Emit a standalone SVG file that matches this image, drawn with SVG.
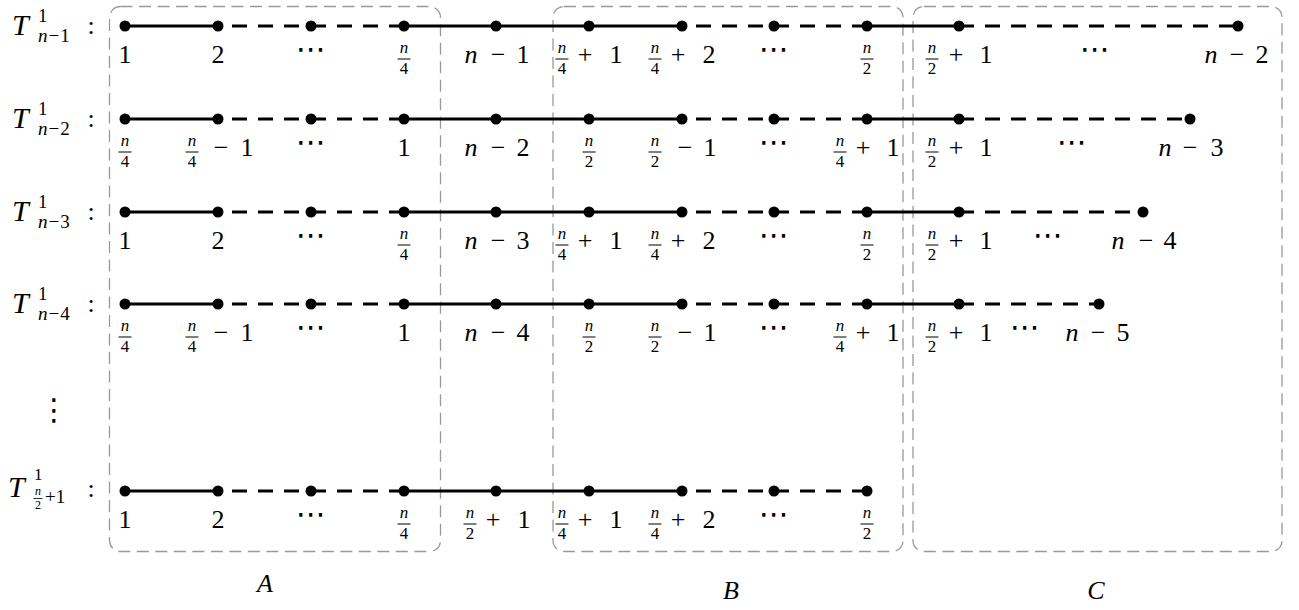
<svg xmlns="http://www.w3.org/2000/svg" width="1299" height="610" viewBox="0 0 1299 610" font-family="Liberation Serif, serif">
<style>
.dot{fill:#000}
.s{stroke:#000;stroke-width:2.8;fill:none}
.d{stroke:#000;stroke-width:2.8;fill:none;stroke-dasharray:15 11}
.d1{stroke-dashoffset:12}
.box{fill:none;stroke:#999;stroke-width:1.3;stroke-dasharray:12 6.5}
text{font-family:"Liberation Serif",serif;font-size:26px;text-anchor:middle;fill:#000}
.i{font-style:italic}
.fr{font-size:17px}
.sm{font-size:19px}
.tt{font-size:30px;font-style:italic;text-anchor:start}
.bar{stroke:#000;stroke-width:1}
.dt{font-family:"DejaVu Sans",sans-serif;font-size:30px}
.st{text-anchor:start}
</style>
<rect width="1299" height="610" fill="#fff"/>

<g id="regions">
<rect id="boxA" class="box" x="109.5" y="6.5" width="331" height="545" rx="11"/>
<rect id="boxB" class="box" x="553" y="6.5" width="350" height="545" rx="11"/>
<rect id="boxC" class="box" x="913" y="6.5" width="369" height="545" rx="11"/>
<text id="labA" class="i" x="265" y="592">A</text>
<text id="labB" class="i" x="731" y="599">B</text>
<text id="labC" class="i" x="1096" y="599">C</text>
</g>

<g id="connectors">
<line class="s" x1="125" y1="26" x2="218" y2="26"/>
<line class="d d1" x1="218" y1="26" x2="311" y2="26"/>
<line class="d" x1="311" y1="26" x2="404" y2="26"/>
<line class="s" x1="404" y1="26" x2="682" y2="26"/>
<line class="d d1" x1="682" y1="26" x2="774" y2="26"/>
<line class="d" x1="774" y1="26" x2="867" y2="26"/>
<line class="s" x1="867" y1="26" x2="959" y2="26"/>
<line class="d" x1="959" y1="26" x2="1238" y2="26"/>
<line class="s" x1="125" y1="119" x2="218" y2="119"/>
<line class="d d1" x1="218" y1="119" x2="311" y2="119"/>
<line class="d" x1="311" y1="119" x2="404" y2="119"/>
<line class="s" x1="404" y1="119" x2="682" y2="119"/>
<line class="d d1" x1="682" y1="119" x2="774" y2="119"/>
<line class="d" x1="774" y1="119" x2="867" y2="119"/>
<line class="s" x1="867" y1="119" x2="959" y2="119"/>
<line class="d" x1="959" y1="119" x2="1190" y2="119"/>
<line class="s" x1="125" y1="212" x2="218" y2="212"/>
<line class="d d1" x1="218" y1="212" x2="311" y2="212"/>
<line class="d" x1="311" y1="212" x2="404" y2="212"/>
<line class="s" x1="404" y1="212" x2="682" y2="212"/>
<line class="d d1" x1="682" y1="212" x2="774" y2="212"/>
<line class="d" x1="774" y1="212" x2="867" y2="212"/>
<line class="s" x1="867" y1="212" x2="959" y2="212"/>
<line class="d" x1="959" y1="212" x2="1143" y2="212"/>
<line class="s" x1="125" y1="304" x2="218" y2="304"/>
<line class="d d1" x1="218" y1="304" x2="311" y2="304"/>
<line class="d" x1="311" y1="304" x2="404" y2="304"/>
<line class="s" x1="404" y1="304" x2="682" y2="304"/>
<line class="d d1" x1="682" y1="304" x2="774" y2="304"/>
<line class="d" x1="774" y1="304" x2="867" y2="304"/>
<line class="s" x1="867" y1="304" x2="959" y2="304"/>
<line class="d" x1="959" y1="304" x2="1099" y2="304"/>
<line class="s" x1="125" y1="491" x2="218" y2="491"/>
<line class="d d1" x1="218" y1="491" x2="311" y2="491"/>
<line class="d" x1="311" y1="491" x2="404" y2="491"/>
<line class="s" x1="404" y1="491" x2="682" y2="491"/>
<line class="d d1" x1="682" y1="491" x2="774" y2="491"/>
<line class="d" x1="774" y1="491" x2="867" y2="491"/>
</g>

<g id="rowlabels">
<g id="T1"><text class="tt" x="12" y="35">T</text><text class="sm st" x="38" y="22">1</text><text class="sm st" x="38" y="42"><tspan class="i">n</tspan><tspan dx="1">−</tspan><tspan dx="1">1</tspan></text><text x="91" y="34">:</text></g>
<g id="T2"><text class="tt" x="12" y="128">T</text><text class="sm st" x="38" y="115">1</text><text class="sm st" x="38" y="135"><tspan class="i">n</tspan><tspan dx="1">−</tspan><tspan dx="1">2</tspan></text><text x="91" y="127">:</text></g>
<g id="T3"><text class="tt" x="12" y="221">T</text><text class="sm st" x="38" y="208">1</text><text class="sm st" x="38" y="228"><tspan class="i">n</tspan><tspan dx="1">−</tspan><tspan dx="1">3</tspan></text><text x="91" y="220">:</text></g>
<g id="T4"><text class="tt" x="12" y="313">T</text><text class="sm st" x="38" y="300">1</text><text class="sm st" x="38" y="320"><tspan class="i">n</tspan><tspan dx="1">−</tspan><tspan dx="1">4</tspan></text><text x="91" y="312">:</text></g>
<text id="vdots" class="dt" x="54" y="420">⋮</text>
<g id="T5"><text class="tt" x="8" y="497">T</text><text class="st" x="34" y="480" style="font-size:17px">1</text><text class="i" x="38" y="495" style="font-size:12px">n</text><line class="bar" x1="33.5" y1="498.5" x2="42.5" y2="498.5" style="stroke-width:0.8"/><text x="38" y="509" style="font-size:12px">2</text><text class="sm st" x="45" y="503">+1</text><text x="91" y="497">:</text></g>
</g>

<g id="row1">
<g id="r1n1"><circle class="dot" cx="125" cy="26" r="5.5"/><text x="125" y="63">1</text></g>
<g id="r1n2"><circle class="dot" cx="218" cy="26" r="5.5"/><text x="218" y="63">2</text></g>
<g id="r1n3"><circle class="dot" cx="311" cy="26" r="5.5"/><text class="dt" x="311" y="59">⋯</text></g>
<g id="r1n4"><circle class="dot" cx="404" cy="26" r="5.5"/><text class="fr i" x="404" y="53">n</text><line class="bar" x1="397.5" y1="59" x2="410.5" y2="59"/><text class="fr" x="404" y="74">4</text></g>
<g id="r1n5"><circle class="dot" cx="496" cy="26" r="5.5"/><text class="i" x="471" y="63">n</text><text x="498" y="63">−</text><text x="523" y="63">1</text></g>
<g id="r1n6"><circle class="dot" cx="589" cy="26" r="5.5"/><text class="fr i" x="562" y="53">n</text><line class="bar" x1="555.5" y1="59" x2="568.5" y2="59"/><text class="fr" x="562" y="74">4</text><text x="585" y="63">+</text><text x="616" y="63">1</text></g>
<g id="r1n7"><circle class="dot" cx="682" cy="26" r="5.5"/><text class="fr i" x="655" y="53">n</text><line class="bar" x1="648.5" y1="59" x2="661.5" y2="59"/><text class="fr" x="655" y="74">4</text><text x="678" y="63">+</text><text x="709" y="63">2</text></g>
<g id="r1n8"><circle class="dot" cx="774" cy="26" r="5.5"/><text class="dt" x="774" y="59">⋯</text></g>
<g id="r1n9"><circle class="dot" cx="867" cy="26" r="5.5"/><text class="fr i" x="867" y="53">n</text><line class="bar" x1="860.5" y1="59" x2="873.5" y2="59"/><text class="fr" x="867" y="74">2</text></g>
<g id="r1n10"><circle class="dot" cx="959" cy="26" r="5.5"/><text class="fr i" x="932" y="53">n</text><line class="bar" x1="925.5" y1="59" x2="938.5" y2="59"/><text class="fr" x="932" y="74">2</text><text x="956" y="63">+</text><text x="986" y="63">1</text></g>
<text class="dt" x="1095" y="59">⋯</text>
<g id="r1n11"><circle class="dot" cx="1238" cy="26" r="5.5"/><text class="i" x="1211" y="63">n</text><text x="1237" y="63">−</text><text x="1262" y="63">2</text></g>
</g>

<g id="row2">
<g id="r2n1"><circle class="dot" cx="125" cy="119" r="5.5"/><text class="fr i" x="125" y="146">n</text><line class="bar" x1="118.5" y1="152" x2="131.5" y2="152"/><text class="fr" x="125" y="167">4</text></g>
<g id="r2n2"><circle class="dot" cx="218" cy="119" r="5.5"/><text class="fr i" x="192" y="146">n</text><line class="bar" x1="185.5" y1="152" x2="198.5" y2="152"/><text class="fr" x="192" y="167">4</text><text x="221" y="156">−</text><text x="247" y="156">1</text></g>
<g id="r2n3"><circle class="dot" cx="311" cy="119" r="5.5"/><text class="dt" x="311" y="152">⋯</text></g>
<g id="r2n4"><circle class="dot" cx="404" cy="119" r="5.5"/><text x="404" y="156">1</text></g>
<g id="r2n5"><circle class="dot" cx="496" cy="119" r="5.5"/><text class="i" x="471" y="156">n</text><text x="498" y="156">−</text><text x="523" y="156">2</text></g>
<g id="r2n6"><circle class="dot" cx="589" cy="119" r="5.5"/><text class="fr i" x="589" y="146">n</text><line class="bar" x1="582.5" y1="152" x2="595.5" y2="152"/><text class="fr" x="589" y="167">2</text></g>
<g id="r2n7"><circle class="dot" cx="682" cy="119" r="5.5"/><text class="fr i" x="655" y="146">n</text><line class="bar" x1="648.5" y1="152" x2="661.5" y2="152"/><text class="fr" x="655" y="167">2</text><text x="685" y="156">−</text><text x="710" y="156">1</text></g>
<g id="r2n8"><circle class="dot" cx="774" cy="119" r="5.5"/><text class="dt" x="774" y="152">⋯</text></g>
<g id="r2n9"><circle class="dot" cx="867" cy="119" r="5.5"/><text class="fr i" x="840" y="146">n</text><line class="bar" x1="833.5" y1="152" x2="846.5" y2="152"/><text class="fr" x="840" y="167">4</text><text x="863" y="156">+</text><text x="893" y="156">1</text></g>
<g id="r2n10"><circle class="dot" cx="959" cy="119" r="5.5"/><text class="fr i" x="932" y="146">n</text><line class="bar" x1="925.5" y1="152" x2="938.5" y2="152"/><text class="fr" x="932" y="167">2</text><text x="956" y="156">+</text><text x="986" y="156">1</text></g>
<text class="dt" x="1072" y="152">⋯</text>
<g id="r2n11"><circle class="dot" cx="1190" cy="119" r="5.5"/><text class="i" x="1165" y="156">n</text><text x="1190" y="156">−</text><text x="1217" y="156">3</text></g>
</g>

<g id="row3">
<g id="r3n1"><circle class="dot" cx="125" cy="212" r="5.5"/><text x="125" y="249">1</text></g>
<g id="r3n2"><circle class="dot" cx="218" cy="212" r="5.5"/><text x="218" y="249">2</text></g>
<g id="r3n3"><circle class="dot" cx="311" cy="212" r="5.5"/><text class="dt" x="311" y="245">⋯</text></g>
<g id="r3n4"><circle class="dot" cx="404" cy="212" r="5.5"/><text class="fr i" x="404" y="239">n</text><line class="bar" x1="397.5" y1="245" x2="410.5" y2="245"/><text class="fr" x="404" y="260">4</text></g>
<g id="r3n5"><circle class="dot" cx="496" cy="212" r="5.5"/><text class="i" x="471" y="249">n</text><text x="498" y="249">−</text><text x="523" y="249">3</text></g>
<g id="r3n6"><circle class="dot" cx="589" cy="212" r="5.5"/><text class="fr i" x="562" y="239">n</text><line class="bar" x1="555.5" y1="245" x2="568.5" y2="245"/><text class="fr" x="562" y="260">4</text><text x="585" y="249">+</text><text x="616" y="249">1</text></g>
<g id="r3n7"><circle class="dot" cx="682" cy="212" r="5.5"/><text class="fr i" x="655" y="239">n</text><line class="bar" x1="648.5" y1="245" x2="661.5" y2="245"/><text class="fr" x="655" y="260">4</text><text x="678" y="249">+</text><text x="709" y="249">2</text></g>
<g id="r3n8"><circle class="dot" cx="774" cy="212" r="5.5"/><text class="dt" x="774" y="245">⋯</text></g>
<g id="r3n9"><circle class="dot" cx="867" cy="212" r="5.5"/><text class="fr i" x="867" y="239">n</text><line class="bar" x1="860.5" y1="245" x2="873.5" y2="245"/><text class="fr" x="867" y="260">2</text></g>
<g id="r3n10"><circle class="dot" cx="959" cy="212" r="5.5"/><text class="fr i" x="932" y="239">n</text><line class="bar" x1="925.5" y1="245" x2="938.5" y2="245"/><text class="fr" x="932" y="260">2</text><text x="956" y="249">+</text><text x="986" y="249">1</text></g>
<text class="dt" x="1048" y="245">⋯</text>
<g id="r3n11"><circle class="dot" cx="1143" cy="212" r="5.5"/><text class="i" x="1118" y="249">n</text><text x="1146" y="249">−</text><text x="1170" y="249">4</text></g>
</g>

<g id="row4">
<g id="r4n1"><circle class="dot" cx="125" cy="304" r="5.5"/><text class="fr i" x="125" y="331">n</text><line class="bar" x1="118.5" y1="337" x2="131.5" y2="337"/><text class="fr" x="125" y="352">4</text></g>
<g id="r4n2"><circle class="dot" cx="218" cy="304" r="5.5"/><text class="fr i" x="192" y="331">n</text><line class="bar" x1="185.5" y1="337" x2="198.5" y2="337"/><text class="fr" x="192" y="352">4</text><text x="221" y="341">−</text><text x="247" y="341">1</text></g>
<g id="r4n3"><circle class="dot" cx="311" cy="304" r="5.5"/><text class="dt" x="311" y="337">⋯</text></g>
<g id="r4n4"><circle class="dot" cx="404" cy="304" r="5.5"/><text x="404" y="341">1</text></g>
<g id="r4n5"><circle class="dot" cx="496" cy="304" r="5.5"/><text class="i" x="471" y="341">n</text><text x="498" y="341">−</text><text x="523" y="341">4</text></g>
<g id="r4n6"><circle class="dot" cx="589" cy="304" r="5.5"/><text class="fr i" x="589" y="331">n</text><line class="bar" x1="582.5" y1="337" x2="595.5" y2="337"/><text class="fr" x="589" y="352">2</text></g>
<g id="r4n7"><circle class="dot" cx="682" cy="304" r="5.5"/><text class="fr i" x="655" y="331">n</text><line class="bar" x1="648.5" y1="337" x2="661.5" y2="337"/><text class="fr" x="655" y="352">2</text><text x="685" y="341">−</text><text x="710" y="341">1</text></g>
<g id="r4n8"><circle class="dot" cx="774" cy="304" r="5.5"/><text class="dt" x="774" y="337">⋯</text></g>
<g id="r4n9"><circle class="dot" cx="867" cy="304" r="5.5"/><text class="fr i" x="840" y="331">n</text><line class="bar" x1="833.5" y1="337" x2="846.5" y2="337"/><text class="fr" x="840" y="352">4</text><text x="863" y="341">+</text><text x="893" y="341">1</text></g>
<g id="r4n10"><circle class="dot" cx="959" cy="304" r="5.5"/><text class="fr i" x="932" y="331">n</text><line class="bar" x1="925.5" y1="337" x2="938.5" y2="337"/><text class="fr" x="932" y="352">2</text><text x="956" y="341">+</text><text x="986" y="341">1</text></g>
<text class="dt" x="1025" y="337">⋯</text>
<g id="r4n11"><circle class="dot" cx="1099" cy="304" r="5.5"/><text class="i" x="1072" y="341">n</text><text x="1098" y="341">−</text><text x="1123" y="341">5</text></g>
</g>

<g id="row5">
<g id="r5n1"><circle class="dot" cx="125" cy="491" r="5.5"/><text x="125" y="528">1</text></g>
<g id="r5n2"><circle class="dot" cx="218" cy="491" r="5.5"/><text x="218" y="528">2</text></g>
<g id="r5n3"><circle class="dot" cx="311" cy="491" r="5.5"/><text class="dt" x="311" y="524">⋯</text></g>
<g id="r5n4"><circle class="dot" cx="404" cy="491" r="5.5"/><text class="fr i" x="404" y="518">n</text><line class="bar" x1="397.5" y1="524" x2="410.5" y2="524"/><text class="fr" x="404" y="539">4</text></g>
<g id="r5n5"><circle class="dot" cx="496" cy="491" r="5.5"/><text class="fr i" x="470" y="518">n</text><line class="bar" x1="463.5" y1="524" x2="476.5" y2="524"/><text class="fr" x="470" y="539">2</text><text x="493" y="528">+</text><text x="524" y="528">1</text></g>
<g id="r5n6"><circle class="dot" cx="589" cy="491" r="5.5"/><text class="fr i" x="562" y="518">n</text><line class="bar" x1="555.5" y1="524" x2="568.5" y2="524"/><text class="fr" x="562" y="539">4</text><text x="585" y="528">+</text><text x="616" y="528">1</text></g>
<g id="r5n7"><circle class="dot" cx="682" cy="491" r="5.5"/><text class="fr i" x="655" y="518">n</text><line class="bar" x1="648.5" y1="524" x2="661.5" y2="524"/><text class="fr" x="655" y="539">4</text><text x="678" y="528">+</text><text x="709" y="528">2</text></g>
<g id="r5n8"><circle class="dot" cx="774" cy="491" r="5.5"/><text class="dt" x="774" y="524">⋯</text></g>
<g id="r5n9"><circle class="dot" cx="867" cy="491" r="5.5"/><text class="fr i" x="867" y="518">n</text><line class="bar" x1="860.5" y1="524" x2="873.5" y2="524"/><text class="fr" x="867" y="539">2</text></g>
</g>
</svg>
